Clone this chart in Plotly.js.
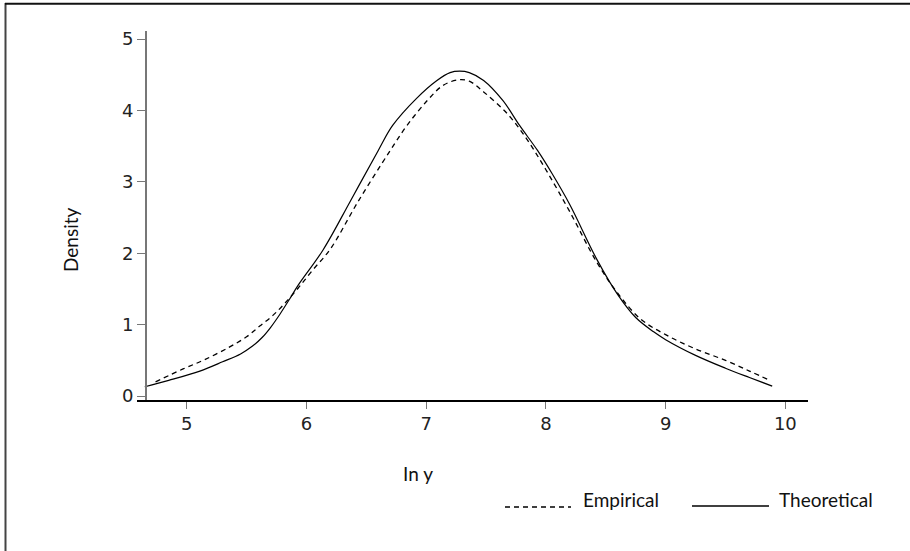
<!DOCTYPE html>
<html>
<head>
<meta charset="utf-8">
<script src="https://cdn.plot.ly/plotly-3.0.1.min.js"></script>
<style>html,body{margin:0;padding:0;background:#fff;}#chart{width:910px;height:551px;}</style>
</head>
<body>
<div id="chart"></div>
<script>
// Theoretical (solid) density
const theoX = [4.65, 4.85, 5.11, 5.30, 5.45, 5.55, 5.63, 5.70, 5.78, 5.86, 5.93, 6.14, 6.37, 6.60, 6.72, 6.92, 7.09, 7.20, 7.28, 7.36, 7.48, 7.64, 7.78, 7.93, 8.05, 8.20, 8.43, 8.60, 8.75, 8.90, 9.00, 9.25, 9.50, 9.70, 9.89];
const theoY = [0.13, 0.22, 0.35, 0.48, 0.59, 0.70, 0.82, 0.96, 1.15, 1.36, 1.55, 2.05, 2.74, 3.44, 3.79, 4.17, 4.42, 4.53, 4.55, 4.53, 4.42, 4.14, 3.79, 3.44, 3.12, 2.68, 1.90, 1.42, 1.10, 0.90, 0.79, 0.57, 0.39, 0.26, 0.14];
// Empirical (dashed) density
const empX = [4.74, 4.97, 5.15, 5.35, 5.50, 5.61, 5.72, 5.82, 5.93, 6.05, 6.20, 6.43, 6.70, 6.84, 7.01, 7.14, 7.27, 7.36, 7.48, 7.68, 7.84, 8.00, 8.20, 8.43, 8.60, 8.79, 9.00, 9.25, 9.50, 9.70, 9.87];
const empY = [0.20, 0.38, 0.51, 0.68, 0.83, 0.98, 1.13, 1.30, 1.51, 1.76, 2.06, 2.72, 3.44, 3.79, 4.14, 4.35, 4.43, 4.41, 4.26, 3.95, 3.60, 3.17, 2.58, 1.86, 1.44, 1.08, 0.86, 0.66, 0.50, 0.35, 0.22];
const xTicks = [5, 6, 7, 8, 9, 10];
const yTicks = [0, 1, 2, 3, 4, 5];
const seriesNames = ["Empirical", "Theoretical"];
const xTitle = "In y";
const yTitle = "Density";

const W = 910, H = 551;
const mL = 137, mR = 102, mT = 31, mB = 151;
const pw = W - mL - mR, ph = H - mT - mB;
const px = v => (v - mL) / pw;          // pixel x -> paper
const py = v => (H - mB - v) / ph;      // pixel y -> paper

const traces = [
  {x: empX, y: empY, type: 'scatter', mode: 'lines', name: seriesNames[0],
   line: {color: '#000', width: 1.3, dash: '5px,4px', shape: 'spline', smoothing: 1}},
  {x: theoX, y: theoY, type: 'scatter', mode: 'lines', name: seriesNames[1],
   line: {color: '#000', width: 1.2, shape: 'spline', smoothing: 1}}
];

const txt = () => ({family: 'Lato', size: 19, color: '#111'});

const layout = {
  width: W, height: H,
  margin: {l: mL, r: mR, t: mT, b: mB, pad: 0},
  paper_bgcolor: '#fff', plot_bgcolor: '#fff',
  font: {family: 'DejaVu Sans', size: 18, color: '#222'},
  showlegend: false,
  xaxis: {
    range: [4.585, 10.189], tickmode: 'array', tickvals: xTicks, ticktext: xTicks.map(String),
    showgrid: false, zeroline: false, showline: true, linecolor: '#000', linewidth: 1.5,
    ticks: 'outside', ticklen: 7, tickcolor: '#777', tickwidth: 1,
    tickfont: {family: 'DejaVu Sans', size: 18, color: '#222'}, anchor: 'y'
  },
  yaxis: {
    range: [-0.055, 5.113], tickmode: 'array', tickvals: yTicks, ticktext: yTicks.map(String),
    showgrid: false, zeroline: false, showline: true, linecolor: '#777', linewidth: 1.6,
    ticks: 'outside', ticklen: 8, tickcolor: '#777', tickwidth: 1,
    tickfont: {family: 'DejaVu Sans', size: 18, color: '#222'}, anchor: 'free', position: px(145)
  },
  annotations: [
    {text: xTitle, xref: 'paper', yref: 'paper', x: px(418), y: py(473), xanchor: 'center', yanchor: 'middle', showarrow: false, font: txt()},
    {text: yTitle, xref: 'paper', yref: 'paper', x: px(70), y: py(240), xanchor: 'center', yanchor: 'middle', textangle: -90, showarrow: false, font: txt()},
    {text: seriesNames[0], xref: 'paper', yref: 'paper', x: px(581), y: py(500), xanchor: 'left', yanchor: 'middle', showarrow: false, font: txt()},
    {text: seriesNames[1], xref: 'paper', yref: 'paper', x: px(777), y: py(500), xanchor: 'left', yanchor: 'middle', showarrow: false, font: txt()}
  ],
  shapes: [
    {type: 'line', xref: 'paper', yref: 'paper', x0: px(505), x1: px(571), y0: py(507), y1: py(507), line: {color: '#000', width: 1.3, dash: '5px,4px'}},
    {type: 'line', xref: 'paper', yref: 'paper', x0: px(692), x1: px(769), y0: py(506), y1: py(506), line: {color: '#000', width: 1.3}},
    {type: 'line', xref: 'paper', yref: 'paper', x0: px(5.5), x1: px(5.5), y0: py(3), y1: py(560), line: {color: '#444', width: 2}},
    {type: 'line', xref: 'paper', yref: 'paper', x0: px(5), x1: px(920), y0: py(3.8), y1: py(3.8), line: {color: '#111', width: 2}}
  ]
};

Plotly.newPlot('chart', traces, layout, {displayModeBar: false, staticPlot: true});
</script>
</body>
</html>
